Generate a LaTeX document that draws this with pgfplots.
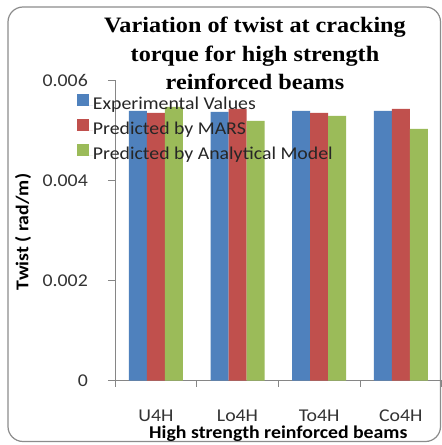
\documentclass[border=0pt]{standalone}
\usepackage{fontspec}
\setmainfont{Carlito}[FakeStretch=1.1]
\newfontfamily\titlefont{Liberation Serif}[FakeStretch=1.1]
\usepackage{pgfplots}
\pgfplotsset{compat=1.18}
\definecolor{cblue}{HTML}{4F81BD}
\definecolor{cred}{HTML}{C0504D}
\definecolor{cgreen}{HTML}{9BBB59}
\definecolor{axgray}{HTML}{868686}
\definecolor{bordergray}{HTML}{8C8C8C}
\begin{document}
\begin{tikzpicture}
\useasboundingbox (0pt,0pt) rectangle (442pt,445pt);
\fill[white] (0pt,0pt) rectangle (442pt,445pt);
\draw[bordergray, line width=1.2pt, rounded corners=15pt] (8pt,3.5pt) rectangle (440.5pt,438pt);
\begin{axis}[
  at={(115pt,64.5pt)}, anchor=south west,
  scale only axis, width=326.7pt, height=300pt,
  ybar=0pt, bar width=18pt,
  xmin=-0.5, xmax=3.5, ymin=0, ymax=0.006,
  scaled y ticks=false,
  axis lines*=left,
  axis line style={axgray, line width=0.8pt},
  xtick={0,1,2,3},
  xticklabels={U4H,Lo4H,To4H,Co4H},
  minor xtick={-0.5,0.5,1.5,2.5,3.5},
  major x tick style={draw=none},
  minor x tick style={axgray, line width=0.8pt},
  minor tick length=6pt,
  ytick={0,0.002,0.004,0.006},
  yticklabels={0,0.002,0.004,0.006},
  y tick style={axgray, line width=0.8pt},
  major tick length=7pt,
  tick align=outside,
  ticklabel style={font=\fontsize{18}{20}\selectfont, text=black!80},
  yticklabel style={anchor=east, inner sep=0pt, xshift=-20pt},
  xticklabel style={anchor=base, inner sep=0pt, yshift=-34pt},
  xlabel={\bfseries High strength reinforced beams},
  ylabel={\bfseries Twist ( rad/m)},
  label style={font=\fontsize{18}{20}\selectfont},
  xlabel style={at={(axis description cs:0.5,-0.1927)}, anchor=base, inner sep=0pt},
  ylabel style={at={(axis description cs:-0.2816,0.495)}, anchor=center, inner sep=0pt},
  legend image code/.code={\fill[#1] (0pt,0pt) rectangle (12pt,12pt); \path (0pt,0pt) -- (16pt,0pt);},
  legend cell align=left,
  legend style={draw=none, fill=none, at={(axis description cs:-0.1172,0.956)}, anchor=north west,
    inner sep=0pt, row sep=5pt, column sep=0pt,
    font=\fontsize{18}{20}\selectfont,
    nodes={inner sep=0pt, text height=12pt, text depth=4pt, text=black!85}},
]
\addplot[fill=cblue, draw=none] coordinates {(0,0.00539) (1,0.00537) (2,0.00539) (3,0.00539)};
\addplot[fill=cred, draw=none] coordinates {(0,0.00535) (1,0.00543) (2,0.00535) (3,0.00543)};
\addplot[fill=cgreen, draw=none] coordinates {(0,0.00547) (1,0.00519) (2,0.00529) (3,0.00503)};
\legend{Experimental Values, Predicted by MARS, Predicted by Analytical Model}
\end{axis}
\node[anchor=base, inner sep=0pt, font=\titlefont\bfseries\fontsize{22}{26}\selectfont] at (255pt,412pt) {Variation of twist at cracking};
\node[anchor=base, inner sep=0pt, font=\titlefont\bfseries\fontsize{22}{26}\selectfont] at (255pt,383.3pt) {torque for high strength};
\node[anchor=base, inner sep=0pt, font=\titlefont\bfseries\fontsize{22}{26}\selectfont] at (255pt,355pt) {reinforced beams};
\end{tikzpicture}
\end{document}
